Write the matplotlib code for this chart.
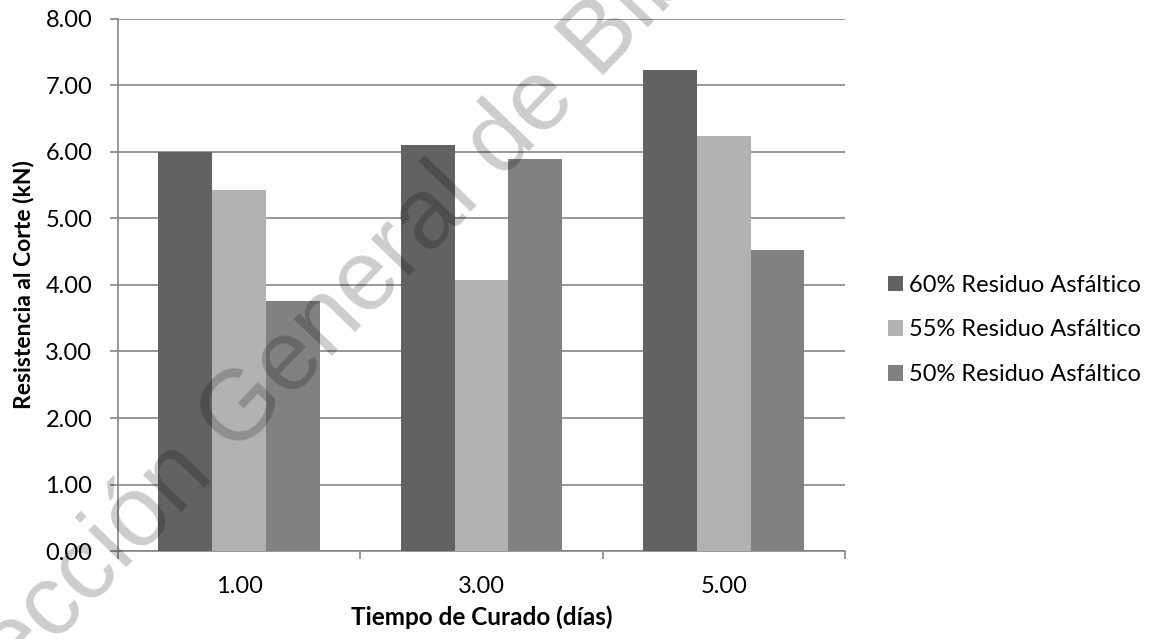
import matplotlib
matplotlib.use('Agg')
import matplotlib.pyplot as plt
import numpy as np

# data
dias = ['1.00', '3.00', '5.00']
series = ['60% Residuo Asfáltico', '55% Residuo Asfáltico', '50% Residuo Asfáltico']
res_60 = [6.00, 6.11, 7.24]
res_55 = [5.43, 4.08, 6.24]
res_50 = [3.76, 5.90, 4.53]
colores = ['#626262', '#b2b2b2', '#818181']

plt.rcParams['font.family'] = ['Lato', 'DejaVu Sans']
grid_col = '#868686'


def graficar():
    fig = plt.figure(figsize=(11.51, 6.39), dpi=100)
    fig.patch.set_facecolor('white')
    ax = fig.add_axes([0.1025, 0.1377, 0.6315, 0.8326])

    x = np.arange(len(dias))
    w = 0.222
    for i, (vals, lab) in enumerate(zip([res_60, res_55, res_50], series)):
        ax.bar(x + (i - 1) * w, vals, w, color=colores[i], label=lab, zorder=3)

    ax.set_xlim(-0.5, 2.5)
    ax.set_ylim(0, 8)
    ax.set_yticks(np.arange(0, 9, 1))
    ax.set_yticklabels(['%.2f' % v for v in np.arange(0, 9, 1)])
    ax.set_xticks(x)
    ax.set_xticklabels(dias)
    ax.set_xticks(np.arange(-0.5, 3, 1), minor=True)

    ax.yaxis.grid(True, color=grid_col, linewidth=1.2, zorder=0)
    ax.set_axisbelow(True)
    for s in ['top', 'right']:
        ax.spines[s].set_visible(False)
    for s in ['left', 'bottom']:
        ax.spines[s].set_color(grid_col)
        ax.spines[s].set_linewidth(1.2)

    ax.tick_params(axis='y', length=6, color=grid_col, width=1.2, pad=12.5, labelsize=17)
    ax.tick_params(axis='x', which='major', length=0, pad=18, labelsize=17)
    ax.tick_params(axis='x', which='minor', length=6, color=grid_col, width=1.2)

    ax.set_ylabel('Resistencia al Corte (kN)', fontsize=16.5, fontweight='bold', labelpad=8)
    ax.set_xlabel('Tiempo de Curado (días)', fontsize=17.5, fontweight='bold', labelpad=6)

    fig.legend(loc='center left', bbox_to_anchor=(0.753, 0.4836), frameon=False,
               fontsize=17, handlelength=0.65, handleheight=0.65, handletextpad=0.25,
               labelspacing=1.0)

    # watermark
    fig.text(-0.064, -0.215, 'Dirección General de Bibliotecas', fontsize=72,
             family='Liberation Sans', color='black', alpha=0.2, rotation=46,
             rotation_mode='anchor', ha='left', va='baseline', zorder=10)

    fig.savefig('out.png', dpi=100)


if __name__ == '__main__':
    graficar()
